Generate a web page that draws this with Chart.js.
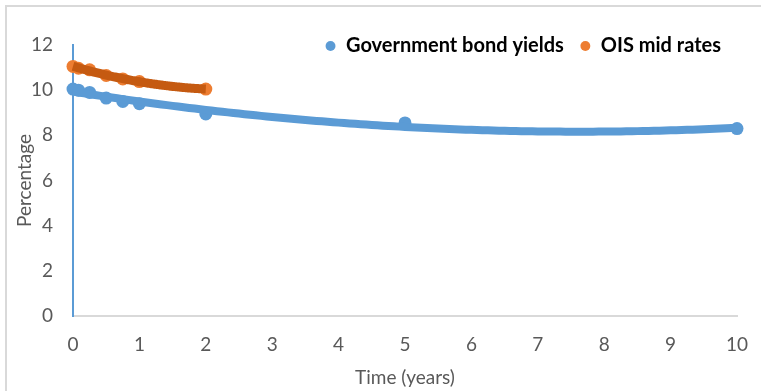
<!DOCTYPE html>
<html>
<head>
<meta charset="utf-8">
<script src="https://cdn.jsdelivr.net/npm/chart.js@4.4.1/dist/chart.umd.min.js"></script>
<style>
  html, body { margin: 0; padding: 0; background: #fff; }
  #wrap { position: relative; width: 761px; height: 391px; overflow: hidden; }
  #frame { position: absolute; left: 5px; top: 5px; width: 800px; height: 400px;
           border-left: 2px solid #d9d9d9; border-top: 2px solid #d9d9d9; box-sizing: border-box; }
  canvas { position: absolute; left: 0; top: 0; }
</style>
</head>
<body>
<div id="wrap">
  <div id="frame"></div>
  <canvas id="c" width="761" height="391"></canvas>
</div>
<script>
// Maturities in years and observed rates (%)
const bondMaturities = [0, 0.083, 0.25, 0.5, 0.75, 1, 2, 5, 10];
const bondYields     = [10.05, 10.0, 9.9, 9.65, 9.5, 9.4, 8.95, 8.55, 8.3];

const oisMaturities  = [0, 0.083, 0.25, 0.5, 0.75, 1, 2];
const oisMidRates    = [11.05, 10.97, 10.9, 10.65, 10.5, 10.38, 10.05];

const xTicks = [0, 1, 2, 3, 4, 5, 6, 7, 8, 9, 10];
const yTicks = [0, 2, 4, 6, 8, 10, 12];

const BLUE = '#5B9BD5';
const ORANGE = '#ED7D31';
const ORANGE_TREND = '#C55A11';
const FONT = "Lato, 'Open Sans', sans-serif";

// Second-order least-squares trendline through a series
function polyFit2(xs, ys) {
  const s = [0, 0, 0, 0, 0], t = [0, 0, 0];
  xs.forEach((x, i) => {
    let p = 1;
    for (let k = 0; k < 5; k++) { s[k] += p; if (k < 3) t[k] += p * ys[i]; p *= x; }
  });
  const A = [[s[0], s[1], s[2], t[0]], [s[1], s[2], s[3], t[1]], [s[2], s[3], s[4], t[2]]];
  for (let i = 0; i < 3; i++) {
    for (let j = i + 1; j < 3; j++) {
      const f = A[j][i] / A[i][i];
      for (let k = i; k < 4; k++) A[j][k] -= f * A[i][k];
    }
  }
  const c = [0, 0, 0];
  for (let i = 2; i >= 0; i--) {
    let v = A[i][3];
    for (let k = i + 1; k < 3; k++) v -= A[i][k] * c[k];
    c[i] = v / A[i][i];
  }
  return c;
}
function trendPoints(xs, ys) {
  const c = polyFit2(xs, ys);
  const lo = Math.min(...xs), hi = Math.max(...xs);
  const pts = [];
  const n = 120;
  for (let i = 0; i <= n; i++) {
    const x = lo + (hi - lo) * i / n;
    pts.push({ x, y: c[0] + c[1] * x + c[2] * x * x });
  }
  return pts;
}
const toXY = (xs, ys) => xs.map((x, i) => ({ x, y: ys[i] }));

// Legend overlaps the top of the plot: reserve little height, but draw unclipped
const compactLegend = {
  id: 'compactLegend',
  beforeLayout(chart) {
    const lg = chart.legend;
    if (lg && !lg._compact) {
      const fit = lg.fit;
      lg.fit = function () { fit.call(this); this.height = 25; };
      lg._compact = true;
    }
  },
  afterLayout(chart) {
    const lg = chart.legend;
    if (lg) { lg.height = 60; lg.bottom = lg.top + 60; }
  }
};

new Chart(document.getElementById('c'), {
  type: 'scatter',
  data: {
    datasets: [
      { label: 'OIS trend', data: trendPoints(oisMaturities, oisMidRates), showLine: true,
        borderColor: ORANGE_TREND, borderWidth: 9, pointRadius: 0, fill: false, clip: false, isTrend: true },
      { label: 'Bond trend', data: trendPoints(bondMaturities, bondYields), showLine: true,
        borderColor: BLUE, borderWidth: 8, pointRadius: 0, fill: false, clip: false, isTrend: true },
      { label: 'Government bond yields', data: toXY(bondMaturities, bondYields),
        backgroundColor: BLUE, borderColor: BLUE, pointRadius: 6.5, pointBorderWidth: 0, clip: false },
      { label: 'OIS mid rates', data: toXY(oisMaturities, oisMidRates),
        backgroundColor: ORANGE, borderColor: ORANGE, pointRadius: 6.5, pointBorderWidth: 0, clip: false }
    ]
  },
  options: {
    responsive: false,
    animation: false,
    layout: { padding: { top: 20, right: 24, left: 0, bottom: 0 } },
    plugins: {
      tooltip: { enabled: false },
      legend: {
        position: 'top',
        align: 'end',
        labels: {
          usePointStyle: true,
          pointStyle: 'circle',
          boxWidth: 11,
          boxHeight: 7,
          padding: 16,
          color: '#000',
          font: { family: FONT, size: 20, weight: 'bold' },
          filter: (item, data) => !data.datasets[item.datasetIndex].isTrend,
          sort: (a, b) => a.datasetIndex - b.datasetIndex
        }
      }
    },
    scales: {
      x: {
        type: 'linear',
        min: 0, max: 10,
        afterBuildTicks: (s) => { s.ticks = xTicks.map(v => ({ value: v })); },
        afterFit: (s) => { s.height = 75; s.paddingLeft = 0; s.paddingRight = 10; },
        grid: { display: true, drawOnChartArea: false, drawTicks: false, color: 'transparent' },
        border: { display: true, color: '#d9d9d9', width: 2 },
        ticks: { padding: 17, color: '#595959', font: { family: FONT, size: 19 } },
        title: { display: true, text: 'Time (years)', color: '#595959',
                 font: { family: FONT, size: 19 }, padding: { top: 0, bottom: 2 } }
      },
      y: {
        type: 'linear',
        min: 0, max: 12,
        afterBuildTicks: (s) => { s.ticks = yTicks.map(v => ({ value: v })); },
        afterFit: (s) => { s.width = 73; },
        grid: { display: true, drawOnChartArea: false, drawTicks: false, color: 'transparent' },
        border: { display: true, color: BLUE, width: 2 },
        ticks: { padding: 20, color: '#595959', font: { family: FONT, size: 19 } },
        title: { display: true, text: 'Percentage', color: '#595959',
                 font: { family: FONT, size: 19 }, padding: { top: 13, bottom: 0 } }
      }
    }
  },
  plugins: [compactLegend]
});
</script>
</body>
</html>
